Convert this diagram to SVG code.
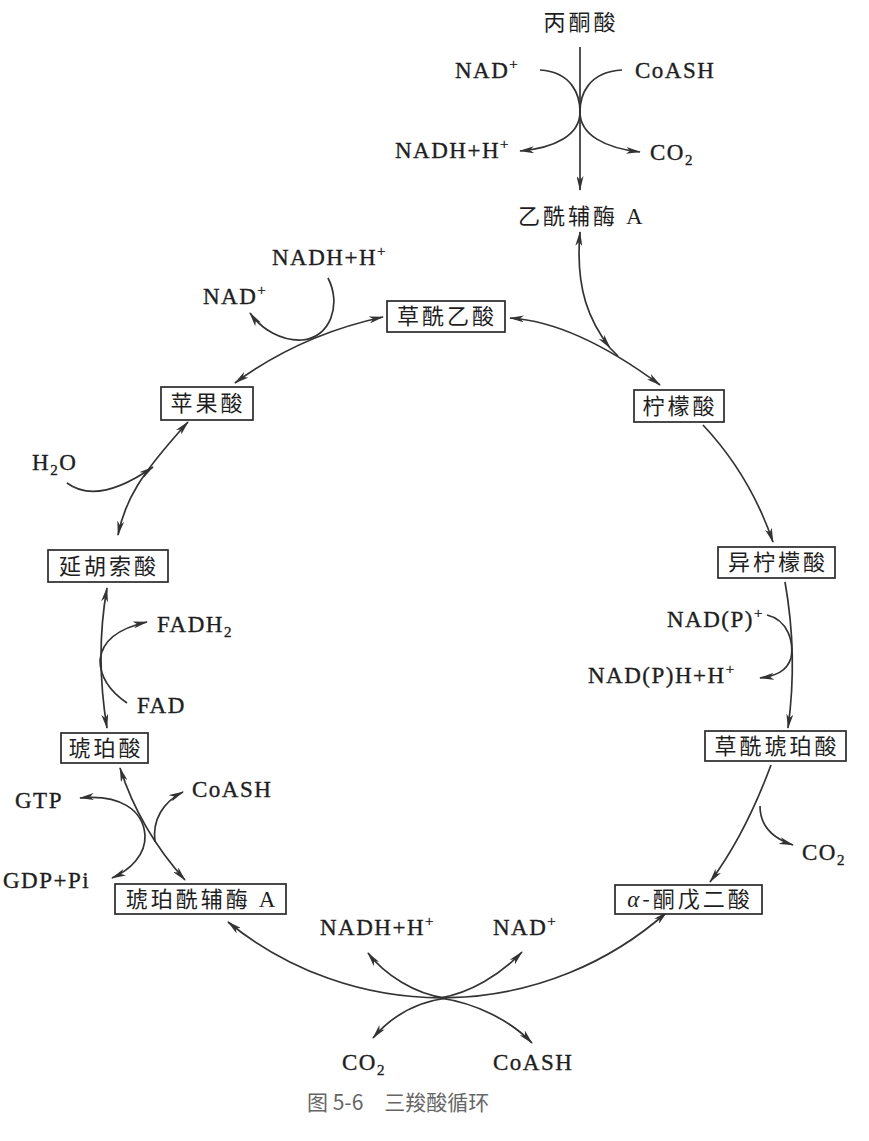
<svg xmlns="http://www.w3.org/2000/svg" width="869" height="1141" viewBox="0 0 869 1141">
<style>
.ln{fill:none;stroke:#333;stroke-width:1.7}
.box{fill:#fff;stroke:#2a2a2a;stroke-width:1.7}
.cj{font-family:"Noto Sans CJK SC",sans-serif;font-size:22px;fill:#1e1e1e;letter-spacing:3px}
.lt{font-family:"Liberation Serif","Noto Sans CJK SC",serif;font-size:23px;fill:#1e1e1e;stroke:#1e1e1e;stroke-width:0.35;letter-spacing:1.5px}
.sm{font-size:15px}
.cap{font-family:"Noto Sans CJK SC",sans-serif;font-size:21px;fill:#666}
.A{font-family:"Liberation Serif",serif}
</style>
<defs>
<marker id="ah" viewBox="0 0 15 7" refX="14" refY="3.5" markerWidth="15" markerHeight="7" markerUnits="userSpaceOnUse" orient="auto-start-reverse">
<path d="M0,0 L15,3.5 L0,7 L4,3.5 z" fill="#333"/>
</marker>
</defs>
<g id="connectors">
<path class="ln" d="M580,47 L580,190" marker-end="url(#ah)"/>
<path class="ln" d="M540,70 C572,72 580,95 580,112 C580,135 555,148 520,151" marker-end="url(#ah)"/>
<path class="ln" d="M622,70 C588,72 580,95 580,112 C580,135 605,148 640,152" marker-end="url(#ah)"/>
<path class="ln" d="M580,232 C575,290 590,322 610,348" marker-start="url(#ah)" marker-end="url(#ah)"/>
<path class="ln" d="M610,348 L618,356"/>
<path class="ln" d="M510,318 Q575,322 660,385" marker-start="url(#ah)" marker-end="url(#ah)"/>
<path class="ln" d="M703,425 Q750,475 773,542" marker-end="url(#ah)"/>
<path class="ln" d="M785,582 Q798,655 788,728" marker-end="url(#ah)"/>
<path class="ln" d="M767,615 C788,620 794,642 791,658 C787,671 776,676 760,678" marker-end="url(#ah)"/>
<path class="ln" d="M771,765 Q745,835 710,882" marker-end="url(#ah)"/>
<path class="ln" d="M760,806 C760,826 772,838 793,845" marker-end="url(#ah)"/>
<path class="ln" d="M228,922 A339,339 0 0 0 667,912" marker-start="url(#ah)" marker-end="url(#ah)"/>
<path class="ln" d="M445,998 C415,994 385,975 368,953" marker-end="url(#ah)"/>
<path class="ln" d="M440,998 C470,993 500,975 522,952" marker-end="url(#ah)"/>
<path class="ln" d="M447,998 C415,1002 390,1018 373,1038" marker-end="url(#ah)"/>
<path class="ln" d="M440,998 C475,1003 510,1020 532,1043" marker-end="url(#ah)"/>
<path class="ln" d="M120,768 Q140,830 185,880" marker-start="url(#ah)" marker-end="url(#ah)"/>
<path class="ln" d="M80,798 C120,794 143,810 145,835 C146,855 130,870 112,878" marker-start="url(#ah)" marker-end="url(#ah)"/>
<path class="ln" d="M155,842 C152,820 163,802 183,792" marker-end="url(#ah)"/>
<path class="ln" d="M107,588 Q95,655 107,728" marker-start="url(#ah)" marker-end="url(#ah)"/>
<path class="ln" d="M127,703 C108,690 100,675 100,660 C102,640 120,628 147,622" marker-end="url(#ah)"/>
<path class="ln" d="M118,535 C125,500 140,475 188,422" marker-start="url(#ah)" marker-end="url(#ah)"/>
<path class="ln" d="M67,483 C90,500 120,490 153,467" marker-end="url(#ah)"/>
<path class="ln" d="M235,383 Q300,335 383,317" marker-start="url(#ah)" marker-end="url(#ah)"/>
<path class="ln" d="M328,278 C342,305 330,338 302,340 C282,341 262,330 250,313" marker-end="url(#ah)"/>
</g>
<g id="oxaloacetate"><rect class="box" x="387" y="301" width="118" height="31"/><text class="cj" x="447" y="324" text-anchor="middle">草酰乙酸</text></g>
<g id="citrate"><rect class="box" x="634" y="390" width="90" height="32"/><text class="cj" x="680" y="414" text-anchor="middle">柠檬酸</text></g>
<g id="isocitrate"><rect class="box" x="718" y="547" width="117" height="31"/><text class="cj" x="778" y="570" text-anchor="middle">异柠檬酸</text></g>
<g id="oxalosuccinate"><rect class="box" x="705" y="731" width="141" height="30"/><text class="cj" x="777" y="754" text-anchor="middle">草酰琥珀酸</text></g>
<g id="akg"><rect class="box" x="615" y="885" width="147" height="29"/><text class="cj" x="690" y="907" text-anchor="middle"><tspan class="A" font-style="italic" font-size="23">α</tspan>-酮戊二酸</text></g>
<g id="succinylcoa"><rect class="box" x="115" y="884" width="171" height="30"/><text class="cj" x="202" y="907" text-anchor="middle">琥珀酰辅酶 <tspan class="A" font-size="23">A</tspan></text></g>
<g id="succinate"><rect class="box" x="61" y="733" width="87" height="30"/><text class="cj" x="106" y="756" text-anchor="middle">琥珀酸</text></g>
<g id="fumarate"><rect class="box" x="48" y="550" width="120" height="32"/><text class="cj" x="109" y="574" text-anchor="middle">延胡索酸</text></g>
<g id="malate"><rect class="box" x="161" y="387" width="92" height="33"/><text class="cj" x="208" y="411" text-anchor="middle">苹果酸</text></g>
<g id="pyruvate"><text class="cj" x="581" y="30" text-anchor="middle">丙酮酸</text></g>
<g id="acetylcoa"><text class="cj" x="518" y="224">乙酰辅酶 <tspan class="A" font-size="23">A</tspan></text></g>
<g id="labels">
<text class="lt" x="455" y="78">NAD<tspan class="sm" dy="-9">+</tspan></text>
<text class="lt" x="635" y="78">CoASH</text>
<text class="lt" x="395" y="158">NADH+H<tspan class="sm" dy="-9">+</tspan></text>
<text class="lt" x="650" y="160">CO<tspan class="sm" dy="5">2</tspan></text>
<text class="lt" x="272" y="265">NADH+H<tspan class="sm" dy="-9">+</tspan></text>
<text class="lt" x="203" y="304">NAD<tspan class="sm" dy="-9">+</tspan></text>
<text class="lt" x="32" y="470">H<tspan class="sm" dy="5">2</tspan><tspan dy="-5">O</tspan></text>
<text class="lt" x="157" y="632">FADH<tspan class="sm" dy="5">2</tspan></text>
<text class="lt" x="137" y="713">FAD</text>
<text class="lt" x="15" y="808">GTP</text>
<text class="lt" x="192" y="797">CoASH</text>
<text class="lt" x="3" y="888">GDP+Pi</text>
<text class="lt" x="320" y="935">NADH+H<tspan class="sm" dy="-9">+</tspan></text>
<text class="lt" x="493" y="935">NAD<tspan class="sm" dy="-9">+</tspan></text>
<text class="lt" x="342" y="1070">CO<tspan class="sm" dy="5">2</tspan></text>
<text class="lt" x="493" y="1070">CoASH</text>
<text class="lt" x="802" y="860">CO<tspan class="sm" dy="5">2</tspan></text>
<text class="lt" x="667" y="627">NAD(P)<tspan class="sm" dy="-9">+</tspan></text>
<text class="lt" x="588" y="683">NAD(P)H+H<tspan class="sm" dy="-9">+</tspan></text>
<text class="cap" x="307" y="1110">图 5-6　三羧酸循环</text>
</g>
</svg>
